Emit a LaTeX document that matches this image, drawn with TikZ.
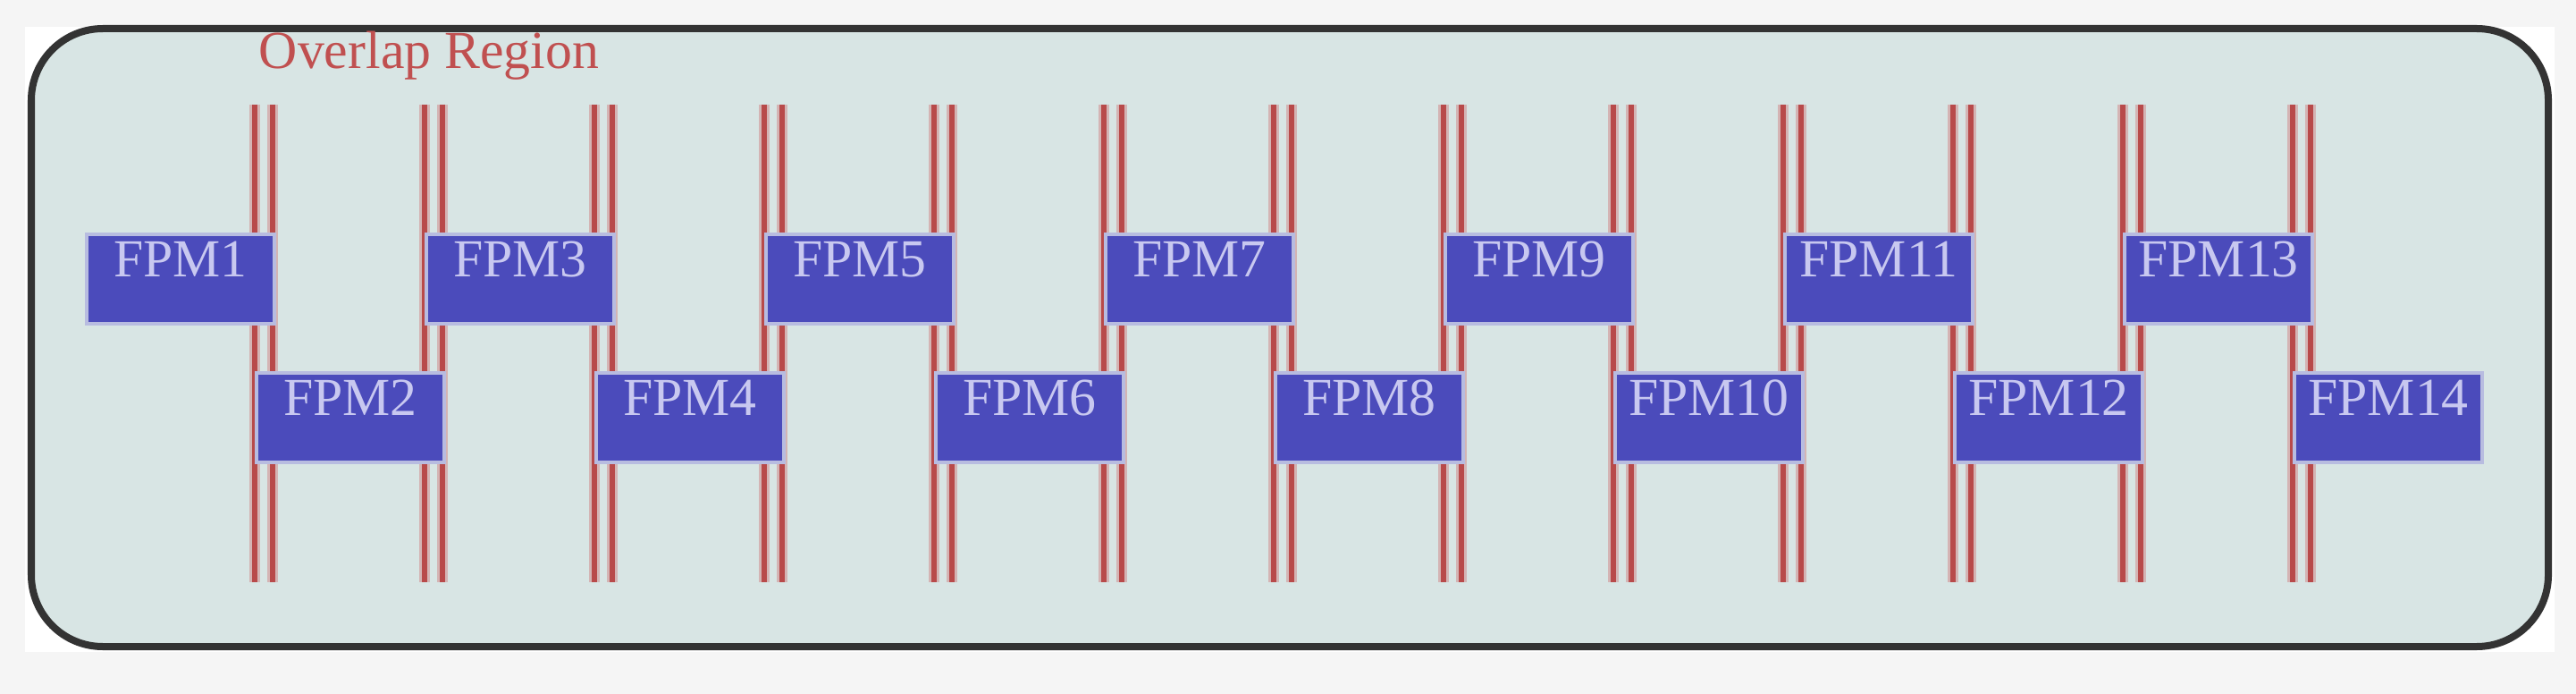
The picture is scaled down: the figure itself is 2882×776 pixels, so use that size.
\documentclass[tikz,border=0pt]{standalone}
\usepackage{fontspec}
\setmainfont{Liberation Serif}
\definecolor{pagebg}{HTML}{F5F5F5}
\definecolor{panel}{HTML}{D8E5E4}
\definecolor{boxfill}{HTML}{4B4BBB}
\definecolor{boxedge}{HTML}{B8BCE0}
\definecolor{redline}{HTML}{B84A4A}
\definecolor{redhalo}{HTML}{D4B4B4}
\definecolor{boxtext}{HTML}{C8C8F0}
\definecolor{titlered}{HTML}{C05050}
\begin{document}
\begin{tikzpicture}[x=0.01cm,y=-0.01cm,
  fpm/.style={fill=boxfill,draw=boxedge,line width=0.04cm,minimum width=2.1cm,minimum height=1.0cm,anchor=north west,inner sep=0pt,text=boxtext,font=\fontsize{17}{17}\selectfont,text depth=0.45cm},
  halo/.style={draw=redhalo,line width=0.12cm},
  rline/.style={draw=redline,line width=0.055cm}]
\fill[pagebg] (0,0) rectangle (2882,776);
\fill[white] (28,30) rectangle (2858,729);
\draw[fill=panel,draw=black!80,line width=0.08cm,rounded corners=0.8cm] (35,32) rectangle (2851,723);
\node[text=titlered,font=\fontsize{17}{17}\selectfont] (title) at (480,62) {Overlap Region};
\foreach \k in {1,...,13}{
  \pgfmathsetmacro{\cx}{295+190*(\k-1)}
  \foreach \d in {-10,10}{
    \coordinate (t\k\d) at (\cx+\d,117);
    \coordinate (b\k\d) at (\cx+\d,651);
    \draw[halo] (t\k\d) -- (b\k\d);
    \draw[rline] (t\k\d) -- (b\k\d);
  }
}
\foreach \i in {1,...,14}{
  \pgfmathsetmacro{\lx}{95+190*(\i-1)}
  \pgfmathsetmacro{\ty}{isodd(\i) ? 260 : 415}
  \node[fpm] (f\i) at (\lx,\ty) {FPM\i};
}
\end{tikzpicture}
\end{document}
